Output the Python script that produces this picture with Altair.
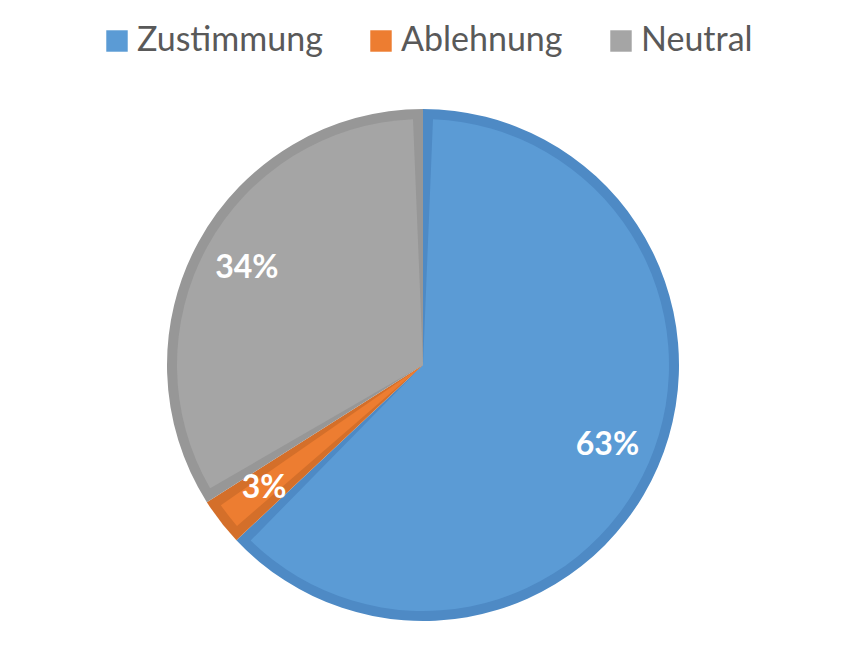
import altair as alt
import pandas as pd

categories = ["Zustimmung", "Ablehnung", "Neutral"]
values = [63, 3, 34]
labels = ["63%", "3%", "34%"]
fill_colors = ["#5B9BD5", "#ED7D31", "#A5A5A5"]
edge_colors = ["#4E8AC5", "#D46F2A", "#979797"]

df = pd.DataFrame({
    "kategorie": categories,
    "wert": values,
    "label": labels,
    "ord": list(range(len(categories))),
})

base = alt.Chart(df).encode(
    theta=alt.Theta("wert:Q", stack=True),
    order=alt.Order("ord:Q"),
)

outer = base.mark_arc(outerRadius=256, stroke=None).encode(
    color=alt.Color(
        "kategorie:N",
        scale=alt.Scale(domain=categories, range=edge_colors),
        legend=None,
    )
)

inner = base.mark_arc(outerRadius=246, padAngle=20 / 246, stroke=None).encode(
    color=alt.Color(
        "kategorie:N",
        scale=alt.Scale(domain=categories, range=fill_colors),
        sort=categories,
        legend=alt.Legend(
            title=None,
            orient="none",
            direction="horizontal",
            legendX=92,
            legendY=-64,
            symbolType="square",
            symbolSize=460,
            symbolStrokeWidth=0,
            labelFont="Lato",
            labelFontSize=34,
            labelColor="#595959",
            labelOffset=3,
            labelLimit=0,
            columnPadding=41,
            padding=0,
        ),
    )
)

text = base.mark_text(
    radius=201,
    font="Lato",
    fontSize=32,
    fontWeight="bold",
    color="white",
    baseline="middle",
    align="center",
).encode(text="label:N")

chart = (
    alt.layer(outer, inner, text)
    .resolve_scale(color="independent")
    .properties(
        width=830,
        height=554,
        padding={"left": 0, "top": 80, "right": 0, "bottom": 0},
        autosize=alt.AutoSizeParams(type="none"),
    )
    .configure_view(stroke=None)
)

chart.save("out.html", embed_options={"renderer": "svg", "actions": False})
